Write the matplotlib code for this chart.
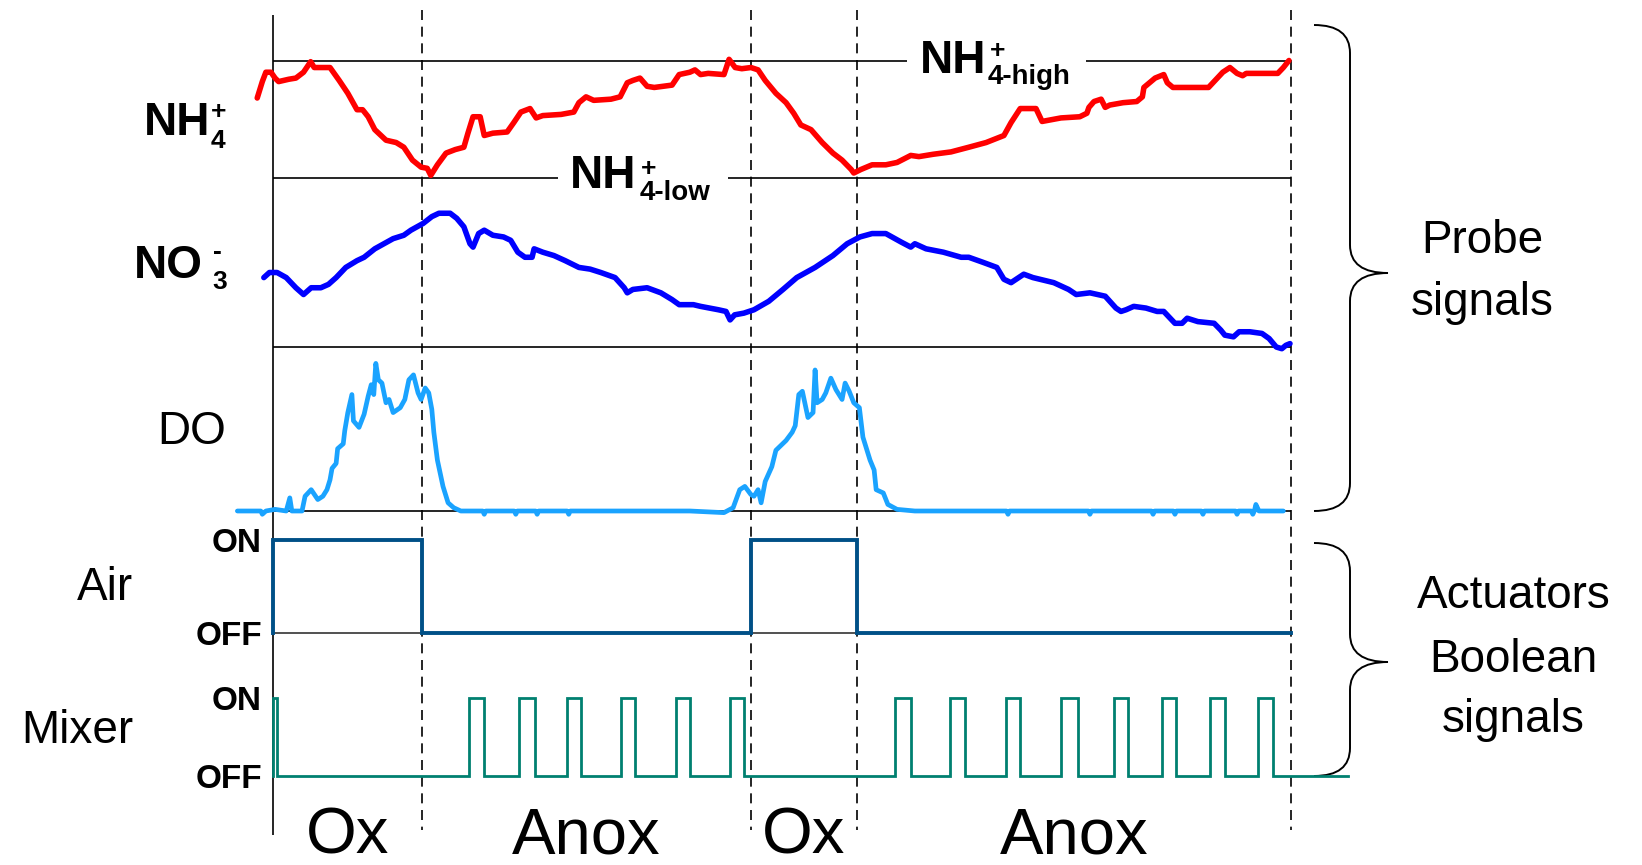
import matplotlib
matplotlib.use("Agg")
import matplotlib.pyplot as plt
from matplotlib.path import Path
from matplotlib.patches import PathPatch

plt.rcParams['font.family'] = ['Liberation Sans', 'DejaVu Sans']

# ---------------- data (time in min, probe signals normalised 0..1) ----------------
phase_names = ['Ox', 'Anox', 'Ox', 'Anox']
phase_bounds = [0.0, 29.3, 93.9, 114.7, 200.0]

nh4_t = [-3.1, -2.1, -1.4, -0.4, 0.4, 1.1, 3.1, 4.5, 6.0, 7.4,
         8.1, 9.4, 11.2, 13.0, 14.7, 16.5, 17.6, 18.7, 20.0, 22.2,
         24.2, 25.7, 27.4, 29.1, 30.3, 31.0, 32.3, 34.0, 35.8, 37.5,
         38.3, 39.3, 40.7, 41.5, 43.2, 46.0, 47.3, 48.7, 50.5, 51.7,
         53.0, 56.6, 59.1, 60.1, 61.5, 63.0, 66.4, 68.2, 69.6, 70.7,
         72.1, 73.5, 74.9, 78.4, 79.8, 81.9, 82.9, 84.0, 85.5, 88.6,
         89.6, 90.8, 92.1, 93.9, 95.3, 96.7, 98.8, 100.8, 102.3, 103.7,
         105.7, 107.9, 110.0, 111.8, 113.6, 114.1, 115.5, 117.7, 120.4, 122.6,
         125.3, 126.9, 129.7, 133.2, 136.7, 140.1, 143.6, 145.0, 146.8, 149.9,
         151.1, 154.8, 158.5, 159.9, 160.3, 161.3, 162.7, 163.5, 164.4, 167.0,
         169.7, 170.8, 171.1, 173.3, 175.0, 175.7, 176.8, 183.8, 186.6, 188.0,
         189.4, 190.5, 191.2, 197.4, 198.5, 199.6]
nh4_v = [0.68, 0.82, 0.90, 0.90, 0.85, 0.82, 0.84, 0.85, 0.90, 0.99,
         0.94, 0.94, 0.94, 0.83, 0.72, 0.58, 0.58, 0.52, 0.41, 0.32,
         0.30, 0.26, 0.15, 0.09, 0.08, 0.02, 0.11, 0.21, 0.24, 0.26,
         0.38, 0.52, 0.52, 0.36, 0.38, 0.39, 0.47, 0.56, 0.59, 0.51,
         0.53, 0.54, 0.56, 0.64, 0.69, 0.66, 0.67, 0.69, 0.81, 0.83,
         0.85, 0.78, 0.77, 0.79, 0.88, 0.90, 0.92, 0.88, 0.89, 0.88,
         1.01, 0.94, 0.93, 0.94, 0.92, 0.83, 0.72, 0.64, 0.55, 0.45,
         0.41, 0.30, 0.21, 0.15, 0.07, 0.04, 0.07, 0.11, 0.11, 0.13,
         0.19, 0.18, 0.20, 0.22, 0.26, 0.30, 0.36, 0.47, 0.59, 0.59,
         0.48, 0.51, 0.52, 0.55, 0.60, 0.65, 0.67, 0.60, 0.62, 0.64,
         0.65, 0.69, 0.77, 0.85, 0.88, 0.81, 0.77, 0.77, 0.90, 0.94,
         0.89, 0.87, 0.89, 0.89, 0.94, 1.00]

no3_t = [-1.8, -0.7, 0.8, 2.6, 4.5, 6.0, 7.5, 9.4, 10.9, 12.4,
         14.3, 16.5, 17.9, 20.0, 23.6, 25.7, 27.1, 29.5, 31.2, 32.6,
         34.8, 36.1, 37.5, 38.7, 39.3, 40.4, 41.5, 43.2, 45.3, 46.7,
         48.1, 49.5, 50.9, 51.3, 53.0, 55.2, 57.4, 60.1, 62.3, 64.4,
         67.2, 69.0, 69.6, 70.7, 73.5, 76.2, 78.4, 79.8, 82.6, 84.0,
         87.5, 89.0, 89.8, 90.7, 92.5, 94.5, 97.4, 100.2, 102.9, 106.5,
         110.0, 112.8, 115.3, 117.7, 120.4, 123.4, 125.3, 126.1, 128.3, 131.7,
         135.2, 136.7, 139.5, 142.2, 143.6, 145.0, 147.5, 149.3, 153.4, 156.3,
         157.8, 160.5, 163.5, 165.6, 166.6, 167.6, 169.1, 171.5, 173.7, 175.0,
         177.2, 178.6, 179.6, 181.7, 184.9, 186.2, 187.0, 188.7, 189.8, 191.9,
         194.3, 195.7, 197.1, 198.2, 199.0, 199.8]
no3_v = [0.41, 0.44, 0.44, 0.41, 0.35, 0.31, 0.35, 0.35, 0.37, 0.41,
         0.47, 0.51, 0.53, 0.58, 0.64, 0.66, 0.69, 0.73, 0.77, 0.79,
         0.79, 0.76, 0.71, 0.61, 0.59, 0.67, 0.69, 0.66, 0.65, 0.63,
         0.56, 0.53, 0.53, 0.58, 0.56, 0.54, 0.51, 0.47, 0.46, 0.44,
         0.41, 0.35, 0.32, 0.34, 0.35, 0.32, 0.28, 0.25, 0.25, 0.24,
         0.22, 0.21, 0.16, 0.19, 0.20, 0.22, 0.27, 0.34, 0.41, 0.47,
         0.54, 0.61, 0.65, 0.67, 0.67, 0.62, 0.59, 0.61, 0.58, 0.56,
         0.53, 0.53, 0.50, 0.47, 0.40, 0.38, 0.43, 0.41, 0.38, 0.34,
         0.31, 0.32, 0.30, 0.23, 0.21, 0.22, 0.24, 0.23, 0.21, 0.21,
         0.14, 0.14, 0.17, 0.15, 0.14, 0.10, 0.07, 0.06, 0.09, 0.09,
         0.08, 0.05, 0.00, -0.01, 0.01, 0.02]

do_t = [-7.0, -2.4, -2.1, -1.4, 0.4, 2.6, 3.3, 3.7, 5.7, 6.3,
        7.5, 8.8, 9.8, 10.6, 11.2, 11.6, 12.4, 12.7, 13.8, 14.1,
        14.7, 15.5, 15.8, 16.9, 17.9, 18.7, 19.3, 19.8, 20.2, 20.7,
        21.4, 22.2, 22.8, 23.6, 25.0, 25.9, 26.7, 27.6, 28.5, 29.1,
        29.9, 30.6, 31.2, 31.6, 32.3, 33.4, 34.4, 35.5, 36.9, 41.2,
        41.5, 41.8, 47.4, 47.7, 48.0, 51.6, 51.9, 52.2, 57.8, 58.1,
        58.4, 81.9, 88.6, 90.4, 91.7, 92.7, 93.9, 94.5, 95.3, 95.9,
        96.7, 98.0, 98.8, 100.8, 102.0, 102.6, 103.3, 104.0, 105.1, 106.1,
        106.5, 106.9, 107.9, 108.6, 109.6, 110.6, 111.8, 112.4, 113.2, 114.1,
        115.2, 115.9, 117.3, 118.1, 118.5, 119.9, 120.8, 122.6, 126.1, 144.1,
        144.4, 144.7, 160.2, 160.5, 160.8, 172.6, 172.9, 173.2, 176.9, 177.2,
        177.5, 182.4, 182.7, 183.0, 189.1, 189.4, 189.7, 192.2, 192.5, 192.8,
        193.1, 193.7, 198.5]
do_v = [0.00, 0.00, -0.02, 0.00, 0.01, 0.00, 0.08, 0.00, 0.00, 0.09,
        0.13, 0.07, 0.09, 0.13, 0.19, 0.26, 0.29, 0.38, 0.41, 0.49,
        0.60, 0.71, 0.55, 0.51, 0.59, 0.70, 0.77, 0.71, 0.90, 0.80,
        0.78, 0.66, 0.68, 0.60, 0.63, 0.68, 0.80, 0.83, 0.72, 0.68,
        0.75, 0.72, 0.62, 0.48, 0.31, 0.15, 0.05, 0.02, 0.00, 0.00,
        -0.02, 0.00, 0.00, -0.02, 0.00, 0.00, -0.02, 0.00, 0.00, -0.02,
        0.00, 0.00, -0.01, 0.02, 0.13, 0.15, 0.10, 0.09, 0.13, 0.05,
        0.18, 0.27, 0.37, 0.43, 0.48, 0.52, 0.71, 0.73, 0.57, 0.60,
        0.86, 0.66, 0.68, 0.72, 0.81, 0.74, 0.68, 0.78, 0.73, 0.66,
        0.63, 0.45, 0.31, 0.25, 0.13, 0.11, 0.04, 0.01, 0.00, 0.00,
        -0.02, 0.00, 0.00, -0.02, 0.00, 0.00, -0.02, 0.00, 0.00, -0.02,
        0.00, 0.00, -0.02, 0.00, 0.00, -0.02, 0.00, 0.00, -0.02, 0.00,
        0.04, 0.00, 0.00]

air_on = [(0.0, 29.3), (93.9, 114.7)]
mixer_on = [(0.0, 0.8), (38.6, 41.5), (48.4, 51.4), (57.8, 60.5), (68.4, 71.1),
            (79.1, 81.9), (89.8, 92.5), (122.2, 125.3), (133.1, 136.0),
            (144.0, 146.8), (154.8, 158.1), (165.2, 168.0), (174.7, 177.4),
            (184.1, 187.0), (193.6, 196.5)]
mixer_end = 211.2
onoff_labels = ['OFF', 'ON']

# ---------------- layout ----------------
W, H = 1642, 865
X0, X1 = 273, 1291
k = (X1 - X0) / phase_bounds[-1]


def t2x(t):
    return X0 + t * k


fig = plt.figure(figsize=(W / 100, H / 100), dpi=100)
ov = fig.add_axes([0, 0, 1, 1])
ov.set_xlim(0, W)
ov.set_ylim(H, 0)
ov.axis('off')
ov.set_zorder(0)


def band(y_top, y_bot):
    ax = fig.add_axes([0, 1 - y_bot / H, 1, (y_bot - y_top) / H])
    ax.set_xlim(-X0 / k, (W - X0) / k)
    ax.set_ylim(0, 1)
    ax.patch.set_visible(False)
    for s in ax.spines.values():
        s.set_visible(False)
    ax.set_xticks([])
    ax.set_yticks([])
    ax.set_zorder(2)
    return ax


def step_xy(intervals, t_start, t_end):
    xs, ys = [t_start], [0]
    for a, b in intervals:
        xs += [a, a, b, b]
        ys += [0, 1, 1, 0]
    xs.append(t_end)
    ys.append(0)
    return xs, ys


# structure lines
lw_thin = 1.2
ov.vlines(X0, 15, 835, color='black', lw=lw_thin)
for tb in phase_bounds[1:]:
    ov.vlines(t2x(tb), 10, 830, color='black', lw=lw_thin, linestyles=(0, (6, 4)))
ov.hlines([60.5, 60.5], [X0, 1086], [907, X1], color='black', lw=lw_thin)
ov.hlines([177.7, 177.7], [X0, 728], [558, X1], color='black', lw=lw_thin)
ov.hlines(347, X0, X1, color='black', lw=lw_thin)
ov.hlines(511, X0, X1, color='black', lw=lw_thin)
ov.hlines(633, X0, X1, color='#333333', lw=lw_thin)

# signals
ax_nh4 = band(60.5, 177.7)
ax_nh4.plot(nh4_t, nh4_v, color='#FF0000', lw=4.0, clip_on=False,
            solid_joinstyle='round', solid_capstyle='round')
ax_no3 = band(177.7, 347)
ax_no3.plot(no3_t, no3_v, color='#0000FF', lw=4.0, clip_on=False,
            solid_joinstyle='round', solid_capstyle='round')
ax_do = band(347, 511)
ax_do.plot(do_t, do_v, color='#1AA3FF', lw=3.4, clip_on=False,
           solid_joinstyle='round', solid_capstyle='round')

ax_air = band(540, 633)
xs, ys = step_xy(air_on, 0.0, phase_bounds[-1])
ax_air.plot(xs, ys, color='#005087', lw=2.8, clip_on=False, solid_joinstyle='miter')
ax_mix = band(697.7, 775.7)
xs, ys = step_xy(mixer_on, 0.0, mixer_end)
ax_mix.plot(xs, ys, color='#008070', lw=2.0, clip_on=False, solid_joinstyle='miter')

for ax in (ax_air, ax_mix):
    ax.spines['left'].set_position(('data', 0))
    ax.set_yticks([0, 1], onoff_labels, fontweight='bold')
    ax.tick_params(axis='y', length=0, pad=8, labelsize=24)

# labels
BIG = 33
SUB = 19
ov.text(210, 135, 'NH', ha='right', va='baseline', fontsize=BIG, fontweight='bold')
ov.text(211, 148, '4', ha='left', va='baseline', fontsize=SUB, fontweight='bold')
ov.text(211, 119, '+', ha='left', va='baseline', fontsize=SUB, fontweight='bold')

ov.text(203, 278, 'NO', ha='right', va='baseline', fontsize=BIG, fontweight='bold')
ov.text(212, 289, '3', ha='left', va='baseline', fontsize=SUB, fontweight='bold')
ov.text(213, 259, '-', ha='left', va='baseline', fontsize=SUB, fontweight='bold')

ov.text(192, 444, 'DO', ha='center', va='baseline', fontsize=BIG)
ov.text(105, 600, 'Air', ha='center', va='baseline', fontsize=BIG)
ov.text(77, 743, 'Mixer', ha='center', va='baseline', fontsize=BIG)

ov.text(986, 73, 'NH', ha='right', va='baseline', fontsize=BIG, fontweight='bold')
ov.text(988, 84, '4-high', ha='left', va='baseline', fontsize=20, fontweight='bold')
ov.text(990, 58, '+', ha='left', va='baseline', fontsize=SUB, fontweight='bold')

ov.text(636, 188, 'NH', ha='right', va='baseline', fontsize=BIG, fontweight='bold')
ov.text(640, 200, '4-low', ha='left', va='baseline', fontsize=20, fontweight='bold')
ov.text(641, 176, '+', ha='left', va='baseline', fontsize=SUB, fontweight='bold')

ov.text(1482, 253, 'Probe', ha='center', va='baseline', fontsize=BIG)
ov.text(1482, 315, 'signals', ha='center', va='baseline', fontsize=BIG)
ov.text(1514, 608, 'Actuators', ha='center', va='baseline', fontsize=BIG)
ov.text(1513, 672, 'Boolean', ha='center', va='baseline', fontsize=BIG)
ov.text(1513, 732, 'signals', ha='center', va='baseline', fontsize=BIG)

for name, a, b in zip(phase_names, phase_bounds[:-1], phase_bounds[1:]):
    ov.text(t2x((a + b) / 2), 853, name, ha='center', va='baseline', fontsize=47)


# braces
def brace(y_top, y_bot, y_tip, x_end=1314, x_mid=1350, x_tip=1388, r=28):
    verts = [(x_end, y_top), (x_mid, y_top), (x_mid, y_top + r),
             (x_mid, y_tip - r), (x_mid, y_tip), (x_tip, y_tip),
             (x_mid, y_tip), (x_mid, y_tip + r),
             (x_mid, y_bot - r), (x_mid, y_bot), (x_end, y_bot)]
    codes = [Path.MOVETO, Path.CURVE3, Path.CURVE3, Path.LINETO,
             Path.CURVE3, Path.CURVE3, Path.CURVE3, Path.CURVE3,
             Path.LINETO, Path.CURVE3, Path.CURVE3]
    ov.add_patch(PathPatch(Path(verts, codes), fill=False, lw=1.4, ec='black'))


brace(25, 511, 273)
brace(543, 776, 662)

fig.savefig('out.png', dpi=100)
